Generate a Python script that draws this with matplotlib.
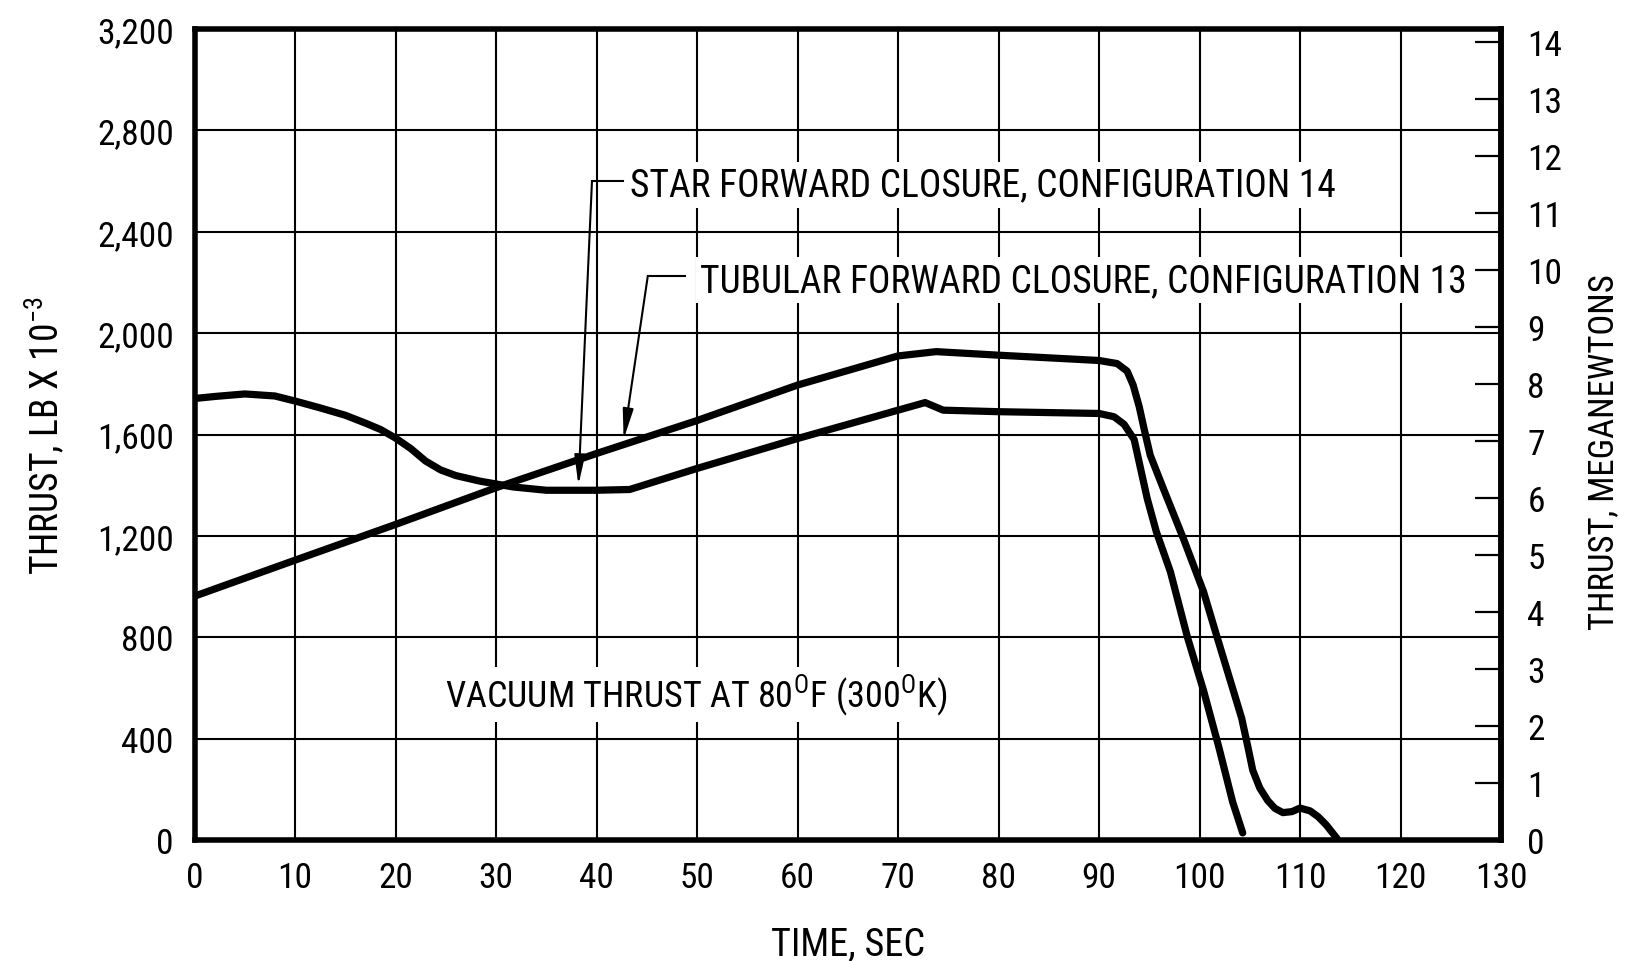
import matplotlib
matplotlib.use("Agg")
import matplotlib.pyplot as plt
from matplotlib import font_manager as fm

# ---- data: vacuum thrust (lb x 10^-3) vs time (s) ----
star_time = [0, 2, 5, 8, 10.2, 12.5, 15, 17, 18.5, 20, 21.5, 23, 24.5, 26, 28.4,
             31.7, 35, 40, 43.3, 50, 60, 70, 72.7, 74.5, 80, 90, 91.5, 92.5, 93.5,
             94.2, 94.8, 95.7, 97.1, 98.8, 100.4, 101.9, 103.3, 104.3]
star_thrust = [1742, 1750, 1760, 1752, 1730, 1705, 1676, 1645, 1620, 1586, 1545, 1495,
               1460, 1438, 1416, 1393, 1380, 1380, 1383, 1466, 1584, 1696, 1726, 1696,
               1690, 1683, 1670, 1640, 1580, 1454, 1347, 1217, 1059, 800, 590, 370,
               150, 28]

tube_time = [0, 10, 20, 30, 40, 50, 60, 70, 73.8, 80, 90, 91.8, 92.8, 93.4, 94.0,
             94.5, 95.1, 96.4, 98.4, 100.4, 101.7, 103.4, 104.2, 104.8, 105.3, 106.0,
             106.8, 107.5, 108.3, 109.2, 110.0, 111.0, 111.8, 112.6, 113.2, 113.7]
tube_thrust = [962, 1104, 1245, 1390, 1525, 1655, 1795, 1910, 1927, 1913, 1892, 1880,
               1850, 1795, 1710, 1620, 1518, 1387, 1189, 980, 807, 585, 480, 370, 275,
               205, 155, 125, 108, 112, 126, 115, 92, 60, 30, 5]

x_ticks = list(range(0, 131, 10))
x_tick_labels = [str(v) for v in x_ticks]
y_ticks = list(range(0, 3201, 400))
y_tick_labels = ["0", "400", "800", "1,200", "1,600", "2,000", "2,400", "2,800", "3,200"]
mn_ticks = list(range(0, 15))
mn_tick_labels = [str(v) for v in mn_ticks]

LBF_TO_N = 4.44822  # newtons per pound-force


# ---- fonts: prefer a narrow sans face for the lettering ----
def pick_narrow_font():
    preferred = ["Liberation Sans Narrow", "Roboto Condensed", "Open Sans Condensed",
                 "Noto Sans Condensed", "DejaVu Sans Condensed"]
    names = {f.name for f in fm.fontManager.ttflist}
    for p in preferred:
        if p in names:
            return p, "normal"
    for f in fm.fontManager.ttflist:
        low = f.fname.lower()
        if (("condensed" in low or "narrow" in low)
                and "extra" not in low and "ultra" not in low and "semi" not in low
                and f.style == "normal" and f.weight in (400, "normal", "regular")
                and "mono" not in low and "serif" not in f.name.lower()):
            return f.name, f.stretch
    return "Roboto", "normal"


fam, stretch = pick_narrow_font()
plt.rcParams["font.family"] = [fam, "DejaVu Sans"]
plt.rcParams["font.stretch"] = stretch
plt.rcParams["mathtext.default"] = "regular"

W, H = 1636, 962
fig = plt.figure(figsize=(W / 100, H / 100), dpi=100, facecolor="white")
left, right, top, bottom = 194.5, 1501, 30, 841
ax = fig.add_axes([left / W, 1 - bottom / H, (right - left) / W, (bottom - top) / H])

ax.set_xlim(0, 130)
ax.set_ylim(0, 3200)
ax.set_xticks(x_ticks)
ax.set_xticklabels(x_tick_labels)
ax.set_yticks(y_ticks)
ax.set_yticklabels(y_tick_labels)
ax.tick_params(axis="both", length=0, labelsize=25.5)
ax.tick_params(axis="x", pad=15)
ax.tick_params(axis="y", pad=15)
ax.grid(True, color="black", linewidth=1.5, zorder=1)
ax.set_axisbelow(True)
for s in ax.spines.values():
    s.set_linewidth(4)
    s.set_color("black")

# curves
ax.plot(tube_time, tube_thrust, color="black", linewidth=5.2,
        solid_joinstyle="round", solid_capstyle="round", zorder=3)
ax.plot(star_time, star_thrust, color="black", linewidth=5.2,
        solid_joinstyle="round", solid_capstyle="round", zorder=3)

# right-hand axis in meganewtons
sec = ax.secondary_yaxis("right",
                         functions=(lambda k: k * LBF_TO_N / 1000.0,
                                    lambda m: m * 1000.0 / LBF_TO_N))
sec.set_yticks(mn_ticks)
sec.set_yticklabels(mn_tick_labels)
sec.tick_params(direction="in", length=19, width=1.6, labelsize=25.5, pad=19)
sec.spines["right"].set_linewidth(4)

# leader lines with arrowheads
box = dict(boxstyle="square,pad=0.12", facecolor="white", edgecolor="none")
arrow = dict(arrowstyle="-|>,head_length=1.8,head_width=0.32",
             color="black", linewidth=1.5, shrinkA=0, shrinkB=0)

ax.plot([39.55, 42.6], [2600, 2600], color="black", linewidth=1.5, zorder=4)
ax.annotate("", xy=(38.2, 1400), xytext=(39.55, 2600), arrowprops=arrow, zorder=4)
ax.text(43.35, 2542, "STAR FORWARD CLOSURE, CONFIGURATION 14", fontsize=27,
        ha="left", va="baseline", bbox=box, zorder=5)

ax.plot([45.1, 48.8], [2224, 2224], color="black", linewidth=1.5, zorder=4)
ax.annotate("", xy=(42.7, 1582), xytext=(45.1, 2224), arrowprops=arrow, zorder=4)
ax.text(50.3, 2167, "TUBULAR FORWARD CLOSURE, CONFIGURATION 13", fontsize=27,
        ha="left", va="baseline", bbox=box, zorder=5)

ax.text(24.9, 529, r"VACUUM THRUST AT 80$^{O}$F (300$^{O}$K)", fontsize=26,
        ha="left", va="baseline", bbox=box, zorder=5)

# axis titles
fig.text(58 / W, 1 - 435.5 / H, r"THRUST, LB X 10$^{-3}$", fontsize=27,
         rotation=90, rotation_mode="anchor", ha="center", va="baseline")
fig.text(1613 / W, 1 - 452.5 / H, "THRUST, MEGANEWTONS", fontsize=25,
         rotation=90, rotation_mode="anchor", ha="center", va="baseline")
fig.text(848 / W, 1 - 955 / H, "TIME, SEC", fontsize=27.5, ha="center", va="baseline")

fig.savefig("out.png", dpi=100, facecolor="white")
